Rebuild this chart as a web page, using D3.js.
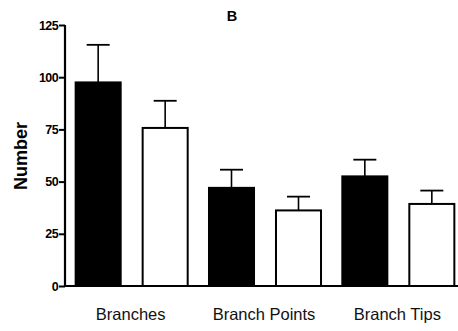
<!DOCTYPE html>
<html>
<head>
<meta charset="utf-8">
<script src="https://cdn.jsdelivr.net/npm/d3@7"></script>
<style>
  html, body { margin: 0; padding: 0; background: #fff; }
  svg { display: block; font-family: "Liberation Sans", Arial, sans-serif; }
</style>
</head>
<body>
<svg id="chart" width="458" height="331"></svg>
<script>
const categories = ["Branches", "Branch Points", "Branch Tips"];
const seriesNames = ["filled", "open"];
const meanFilled = [97.5, 47, 52.5];
const errFilled = [18, 8.7, 8];
const meanOpen = [75.7, 36.2, 39.3];
const errOpen = [13, 6.6, 6.4];
const yTicks = [0, 25, 50, 75, 100, 125];
const title = "B";
const yLabel = "Number";

const rows = [];
categories.forEach((c, i) => {
  rows.push({cat: c, s: "filled", v: meanFilled[i], e: errFilled[i]});
  rows.push({cat: c, s: "open", v: meanOpen[i], e: errOpen[i]});
});

const svg = d3.select("#chart");
const x0 = d3.scaleBand().domain(categories).range([65, 465]).paddingInner(0).paddingOuter(0);
const x1 = d3.scaleBand().domain(seriesNames).range([0, x0.bandwidth()]).paddingInner(0.328).paddingOuter(0.159);
const y = d3.scaleLinear().domain([0, 125]).range([286, 25]);

// bars
const g = svg.append("g");
g.selectAll("rect.bar").data(rows).join("rect")
  .attr("class", "bar")
  .attr("x", d => x0(d.cat) + x1(d.s))
  .attr("y", d => y(d.v))
  .attr("width", x1.bandwidth())
  .attr("height", d => y(0) - y(d.v))
  .attr("fill", d => d.s === "filled" ? "#000" : "#fff")
  .attr("stroke", "#000")
  .attr("stroke-width", 2);

// error bars
const eb = g.selectAll("g.err").data(rows).join("g").attr("class", "err");
eb.append("line")
  .attr("x1", d => x0(d.cat) + x1(d.s) + x1.bandwidth() / 2)
  .attr("x2", d => x0(d.cat) + x1(d.s) + x1.bandwidth() / 2)
  .attr("y1", d => y(d.v))
  .attr("y2", d => y(d.v + d.e))
  .attr("stroke", "#000").attr("stroke-width", 1.6);
eb.append("line")
  .attr("x1", d => x0(d.cat) + x1(d.s) + x1.bandwidth() / 2 - 11.5)
  .attr("x2", d => x0(d.cat) + x1(d.s) + x1.bandwidth() / 2 + 11.5)
  .attr("y1", d => y(d.v + d.e))
  .attr("y2", d => y(d.v + d.e))
  .attr("stroke", "#000").attr("stroke-width", 1.8);

// y axis
const yAxis = d3.axisLeft(y).tickValues(yTicks).tickSize(6).tickPadding(1).tickSizeOuter(0);
const ya = svg.append("g").attr("transform", "translate(65,0)").call(yAxis);
ya.select(".domain").attr("stroke-width", 2.2).attr("d", `M0,${y(125)}V${y(0) + 1}`);
ya.selectAll(".tick line").attr("stroke-width", 2);
ya.selectAll(".tick text").attr("font-size", "12.5px").attr("font-weight", "bold")
  .attr("font-family", "Liberation Sans, Arial, sans-serif").attr("fill", "#000").attr("letter-spacing", "-0.6px");

// x axis line
svg.append("line").attr("x1", 64).attr("x2", 458).attr("y1", y(0)).attr("y2", y(0))
  .attr("stroke", "#000").attr("stroke-width", 2.2);

// category labels
svg.selectAll("text.cat").data(categories).join("text")
  .attr("class", "cat")
  .attr("x", d => x0(d) + x0.bandwidth() / 2 - 1)
  .attr("y", 320)
  .attr("text-anchor", "middle")
  .attr("font-size", "16.5px")
  .attr("fill", "#111")
  .text(d => d);

// title
svg.append("text").attr("x", 232).attr("y", 21).attr("text-anchor", "middle")
  .attr("font-size", "14.5px").attr("font-weight", "bold").text(title);

// y label
svg.append("text").attr("transform", "translate(27,156) rotate(-90)")
  .attr("text-anchor", "middle").attr("font-size", "18px").attr("font-weight", "bold")
  .text(yLabel);
</script>
</body>
</html>
